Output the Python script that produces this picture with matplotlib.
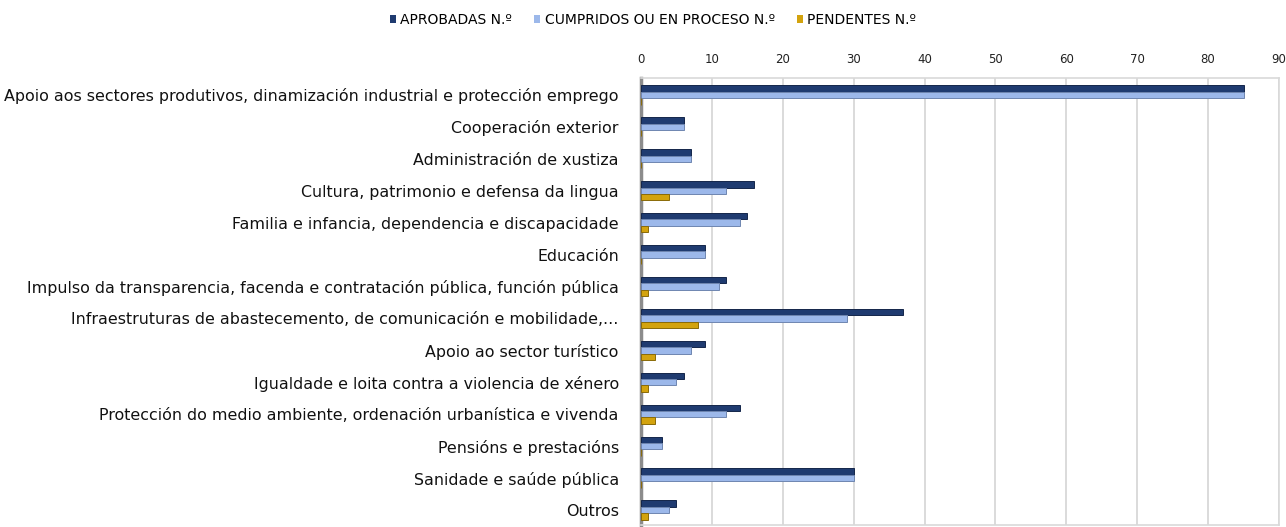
import matplotlib
matplotlib.use("Agg")
import matplotlib.pyplot as plt
import numpy as np

categories = [
    "Apoio aos sectores produtivos, dinamización industrial e protección emprego",
    "Cooperación exterior",
    "Administración de xustiza",
    "Cultura, patrimonio e defensa da lingua",
    "Familia e infancia, dependencia e discapacidade",
    "Educación",
    "Impulso da transparencia, facenda e contratación pública, función pública",
    "Infraestruturas de abastecemento, de comunicación e mobilidade,...",
    "Apoio ao sector turístico",
    "Igualdade e loita contra a violencia de xénero",
    "Protección do medio ambiente, ordenación urbanística e vivenda",
    "Pensións e prestacións",
    "Sanidade e saúde pública",
    "Outros",
]
aprobadas = [85, 6, 7, 16, 15, 9, 12, 37, 9, 6, 14, 3, 30, 5]
cumpridos = [85, 6, 7, 12, 14, 9, 11, 29, 7, 5, 12, 3, 30, 4]
pendentes = [0, 0, 0, 4, 1, 0, 1, 8, 2, 1, 2, 0, 0, 1]
series_names = ["APROBADAS N.º", "CUMPRIDOS OU EN PROCESO N.º", "PENDENTES N.º"]
xticks = [0, 10, 20, 30, 40, 50, 60, 70, 80, 90]

colors = ["#1f3b70", "#9cb8ea", "#d3a30e"]
edges = ["#14264a", "#6f86b0", "#8a6a08"]

fig = plt.figure(figsize=(12.86, 5.27), dpi=100)
ax = fig.add_axes([641/1286, 2/527, (1279-641)/1286, (525-78)/527])

y = np.arange(len(categories))
h = 0.2
for i, (vals, name) in enumerate(zip([aprobadas, cumpridos, pendentes], series_names)):
    ax.barh(y + (i - 1) * h, vals, height=h, color=colors[i], edgecolor=edges[i],
            linewidth=0.7, label=name, zorder=3)

ax.set_xlim(0, 90)
ax.set_ylim(len(categories) - 0.53, -0.53)
ax.set_xticks(xticks)
ax.xaxis.tick_top()
ax.tick_params(axis="x", length=0, pad=9, labelsize=8.5, colors="#222222")
ax.set_yticks(y)
ax.set_yticklabels(categories, fontsize=11.4, color="#111111")
ax.tick_params(axis="y", length=0, pad=16)
ax.grid(axis="x", color="#d4d4d4", linewidth=1.2, zorder=0)
for s in ["top", "right", "bottom"]:
    ax.spines[s].set_color("#d9d9d9")
    ax.spines[s].set_linewidth(1.2)
ax.spines["left"].set_color("#8c8c8c")
ax.spines["left"].set_linewidth(2.5)

leg = fig.legend(loc="center", bbox_to_anchor=(653/1286, 1 - 20/527), ncol=3,
                 frameon=False, fontsize=10, handlelength=0.45, handleheight=0.45,
                 handletextpad=0.3, columnspacing=1.6)
for p in leg.get_patches():
    p.set_edgecolor("none")

fig.savefig("out.png", dpi=100)
